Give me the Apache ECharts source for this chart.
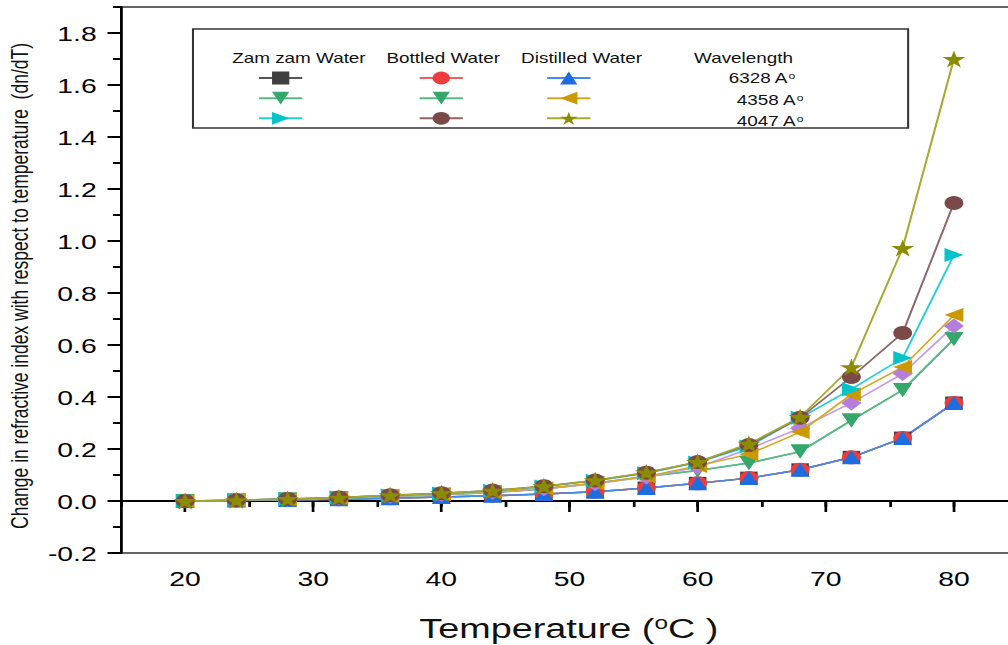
<!DOCTYPE html>
<html><head><meta charset="utf-8">
<script src="https://cdn.jsdelivr.net/npm/echarts@6/dist/echarts.min.js"></script>
<style>
html,body{margin:0;padding:0;background:#fff;overflow:hidden;width:1008px;height:645px;}
#wrap{width:1008px;height:645px;overflow:hidden;position:relative;}
#chart{width:760px;height:645px;transform:scaleX(1.3494);transform-origin:0 0;}
</style></head><body><div id="wrap"><div id="chart"></div></div>
<script>
// ---- data ----
const temperature = [20, 24, 28, 32, 36, 40, 44, 48, 52, 56, 60, 64, 68, 72, 76, 80];
const xTickLabels = [20, 30, 40, 50, 60, 70, 80];
const yTickLabels = [-0.2, 0, 0.2, 0.4, 0.6, 0.8, 1.0, 1.2, 1.4, 1.6, 1.8];
const zamzam6328    = [0, 0.002, 0.004, 0.007, 0.011, 0.015, 0.020, 0.027, 0.036, 0.050, 0.068, 0.088, 0.120, 0.168, 0.242, 0.377];
const bottled6328   = [0, 0.002, 0.004, 0.007, 0.011, 0.015, 0.020, 0.027, 0.036, 0.050, 0.068, 0.088, 0.120, 0.168, 0.242, 0.377];
const distilled6328 = [0, 0.002, 0.004, 0.007, 0.011, 0.015, 0.020, 0.027, 0.036, 0.050, 0.068, 0.088, 0.120, 0.168, 0.242, 0.377];
const zamzam4358    = [0, 0.002, 0.006, 0.011, 0.017, 0.024, 0.033, 0.046, 0.068, 0.094, 0.117, 0.146, 0.190, 0.310, 0.427, 0.623];
const bottled4358   = [0, 0.002, 0.006, 0.011, 0.017, 0.024, 0.033, 0.046, 0.068, 0.094, 0.117, 0.146, 0.190, 0.310, 0.427, 0.623];
const distilled4358 = [0, 0.003, 0.007, 0.012, 0.019, 0.026, 0.035, 0.049, 0.068, 0.094, 0.135, 0.180, 0.265, 0.410, 0.515, 0.715];
const unlabelled    = [0, 0.003, 0.007, 0.012, 0.018, 0.025, 0.034, 0.047, 0.066, 0.092, 0.130, 0.200, 0.280, 0.377, 0.490, 0.673];
const zamzam4047    = [0, 0.003, 0.008, 0.013, 0.021, 0.029, 0.039, 0.056, 0.078, 0.107, 0.148, 0.210, 0.320, 0.430, 0.550, 0.946];
const bottled4047   = [0, 0.003, 0.008, 0.013, 0.022, 0.030, 0.040, 0.057, 0.079, 0.109, 0.150, 0.215, 0.320, 0.477, 0.646, 1.146];
const distilled4047 = [0, 0.003, 0.008, 0.013, 0.022, 0.030, 0.040, 0.057, 0.080, 0.110, 0.150, 0.220, 0.323, 0.515, 0.973, 1.700];

const FONT = '"Liberation Sans", Arial, sans-serif';
const STAR = 'path://M50,0 L61,35 L98,35 L68,57 L79,91 L50,70 L21,91 L32,57 L2,35 L39,35 Z';

function mk(name, arr, symbol, rotate, size, color, lineColor) {
  return {
    name: name, type: 'line',
    data: temperature.map((t, i) => [t, arr[i]]),
    symbol: symbol, symbolRotate: rotate, symbolSize: size,
    showAllSymbol: true,
    itemStyle: { color: color, opacity: 1 },
    lineStyle: { color: lineColor, width: 1.5 },
    emphasis: { disabled: true },
    animation: false
  };
}

const series = [
  mk('Zamzam 6328', zamzam6328, 'rect', 0, 13, '#404040', '#555555'),
  mk('Bottled 6328', bottled6328, 'circle', 0, 14, '#ef3b3b', '#f06060'),
  mk('Distilled 6328', distilled6328, 'triangle', 0, 14, '#1c6ee0', '#3f8cf0'),
  mk('Zamzam 4358', zamzam4358, 'triangle', 180, 14, '#34a86a', '#55bb80'),
  mk('Bottled 4358', bottled4358, 'triangle', 180, 14, '#34a86a', '#55bb80'),
  mk('Unlabelled', unlabelled, 'diamond', 0, 15, '#b57edc', '#c49ae6'),
  mk('Distilled 4358', distilled4358, 'triangle', 90, 14, '#cc9900', '#d8a825'),
  mk('Zamzam 4047', zamzam4047, 'triangle', -90, 14, '#00c4c8', '#20d0d4'),
  mk('Bottled 4047', bottled4047, 'circle', 0, 14, '#7a4a48', '#8e6664'),
  mk('Distilled 4047', distilled4047, STAR, 0, 17, '#8c8c00', '#a8a830')
];

function legendCol(left, names) {
  return {
    left: left, top: 70, orient: 'vertical', padding: 0,
    itemWidth: 32, itemHeight: 16, itemGap: 5.75,
    selectedMode: false, formatter: () => '',
    textStyle: { fontSize: 1 },
    data: names
  };
}

function txt(x, y, text, size, extra, align) {
  return Object.assign({
    type: 'text', x: x, y: y, silent: true,
    style: {
      text: text, fill: '#111', font: size + 'px ' + FONT,
      align: align || 'center', verticalAlign: 'middle',
      textAlign: align || 'center', textVerticalAlign: 'middle',
      rich: { s: { fontSize: Math.round(size * 0.65), fontFamily: FONT, fill: '#111', verticalAlign: 'top' } }
    }
  }, extra || {});
}

const chart = echarts.init(document.getElementById('chart'), null, { renderer: 'svg' });
chart.setOption({
  backgroundColor: '#fff',
  animation: false,
  grid: { left: 89.7, right: 5.6, top: 7, bottom: 92, show: true, borderColor: '#333', borderWidth: 1.5, backgroundColor: 'transparent' },
  xAxis: [
    { type: 'value', min: 15, max: 85, interval: 5, position: 'bottom',
      axisLine: { lineStyle: { color: '#000', width: 2 } },
      axisTick: { length: 6, lineStyle: { color: '#000', width: 2 } },
      axisLabel: { customValues: xTickLabels, fontSize: 21, fontFamily: FONT, color: '#000', margin: 15 },
      splitLine: { show: false } },
    { type: 'value', min: 15, max: 85, position: 'bottom',
      axisLine: { show: false },
      axisTick: { customValues: xTickLabels, length: 11, lineStyle: { color: '#000', width: 2 } },
      axisLabel: { show: false }, splitLine: { show: false } }
  ],
  yAxis: [
    { type: 'value', min: -0.2, max: 1.9, interval: 0.1, position: 'left',
      axisLine: { show: true, lineStyle: { color: '#000', width: 2 } },
      axisTick: { show: true, length: 6, lineStyle: { color: '#000', width: 2 } },
      axisLabel: { customValues: yTickLabels, formatter: v => v.toFixed(1), fontSize: 21, fontFamily: FONT, color: '#000', margin: 18 },
      splitLine: { show: false } },
    { type: 'value', min: -0.2, max: 1.9, position: 'left',
      axisLine: { show: false },
      axisTick: { show: true, customValues: yTickLabels, length: 10, lineStyle: { color: '#000', width: 2 } },
      axisLabel: { show: false }, splitLine: { show: false } }
  ],
  legend: [
    legendCol(191, ['Zamzam 6328', 'Zamzam 4358', 'Zamzam 4047']),
    legendCol(310, ['Bottled 6328', 'Bottled 4358', 'Bottled 4047']),
    legendCol(404.5, ['Distilled 6328', 'Distilled 4358', 'Distilled 4047'])
  ],
  graphic: [
    { type: 'rect', silent: true, shape: { x: 143, y: 29, width: 530, height: 99 },
      style: { fill: 'none', stroke: '#333', lineWidth: 1.5 } },
    txt(221.5, 58, 'Zam zam Water', 14),
    txt(328.5, 58, 'Bottled Water', 14),
    txt(431, 58, 'Distilled Water', 14),
    txt(551, 58, 'Wavelength', 14),
    txt(540, 78, '6328 A{s|o}', 14, null, 'left'),
    txt(546, 100, '4358 A{s|o}', 14, null, 'left'),
    txt(546, 121, '4047 A{s|o}', 14, null, 'left'),
    txt(421.5, 628, 'Temperature ({s|o}C )', 28),
    txt(14.8, 286, 'Change in refractive index with respect to temperature  (dn/dT)', 17.5, { rotation: Math.PI / 2 })
  ],
  series: series
});
</script></body></html>
